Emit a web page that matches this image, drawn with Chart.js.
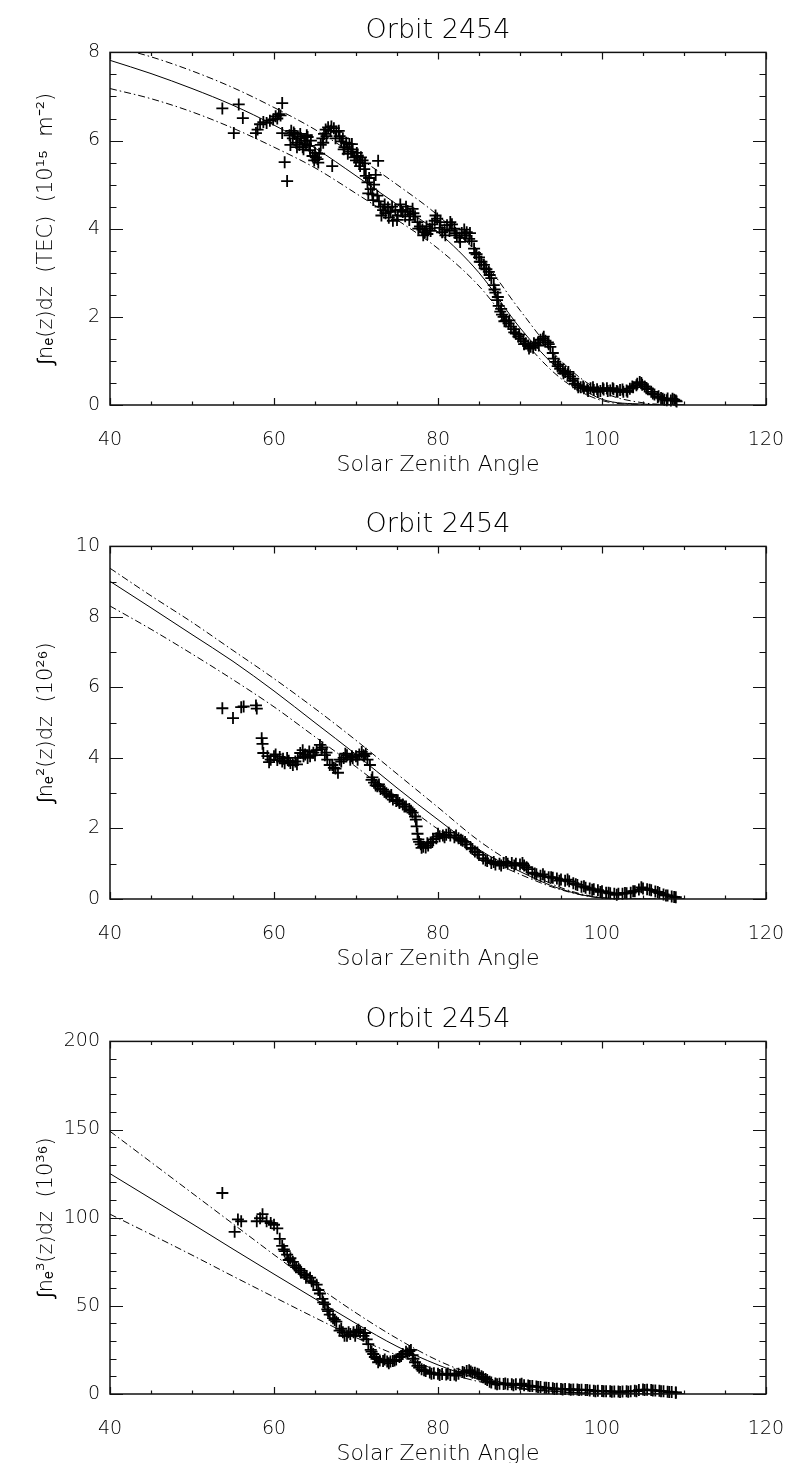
<!DOCTYPE html>
<html>
<head>
<meta charset="utf-8">
<script src="https://cdn.jsdelivr.net/npm/chart.js@4"></script>
<style>
  body { margin: 0; background: #fff; overflow: hidden; width: 790px; height: 1463px; position: relative; }
  canvas { position: absolute; left: 0; }
</style>
</head>
<body>
<canvas id="c1" width="790" height="494" style="top:0px"></canvas>
<canvas id="c2" width="790" height="494" style="top:494px"></canvas>
<canvas id="c3" width="790" height="494" style="top:989px"></canvas>
<script>
// model curves, read at these solar zenith angles
const modelSza = [40, 45, 50, 55, 60, 65, 70, 75, 80, 85, 90, 95, 100, 105, 110];

const tecModel = [7.82, 7.52, 7.18, 6.8, 6.35, 5.83, 5.2, 4.55, 3.92, 3.0, 1.75, 0.76, 0.13, 0.02, 0];
const tecHigh  = [8.15, 7.9, 7.58, 7.2, 6.75, 6.25, 5.65, 5.0, 4.3, 3.4, 2.15, 1.0, 0.3, 0.05, 0];
const tecLow   = [7.18, 6.95, 6.65, 6.28, 5.85, 5.38, 4.8, 4.2, 3.55, 2.7, 1.55, 0.6, 0.1, 0.01, 0];

const n2Model = [9.01, 8.26, 7.5, 6.74, 5.9, 5.0, 4.1, 3.15, 2.25, 1.4, 0.78, 0.28, 0.03, 0, 0];
const n2High  = [9.38, 8.6, 7.85, 7.05, 6.25, 5.4, 4.5, 3.55, 2.6, 1.65, 0.9, 0.32, 0.04, 0, 0];
const n2Low   = [8.31, 7.65, 6.95, 6.22, 5.45, 4.6, 3.75, 2.85, 1.98, 1.25, 0.7, 0.26, 0.03, 0, 0];

const n3Model = [125, 110.8, 96.6, 82.2, 68, 54, 40, 27, 16.5, 8.5, 3.5, 1.2, 0.3, 0.05, 0];
const n3High  = [149, 131.5, 114, 96.5, 79, 62, 46, 31.5, 19, 10, 4.5, 1.5, 0.3, 0.05, 0];
const n3Low   = [102, 90.5, 78.8, 66.8, 55, 43.3, 32, 22, 13.5, 7, 3, 1, 0.2, 0.02, 0];

// measurements, panel 1: TEC
const tecSza = [53.7, 55.1, 55.7, 56.2, 57.8, 58.0, 58.3, 58.7, 59.1, 59.5, 59.9, 60.2, 60.4, 60.6, 60.8, 61.0, 61.0, 61.3, 61.6,
  61.9, 62.1, 62.3, 62.5, 62.7, 62.9, 63.1, 63.3, 63.5, 63.7, 63.9, 64.1, 64.3, 64.5, 64.7, 64.9, 65.1, 65.3, 65.5, 65.7, 65.9,
  66.1, 66.3, 66.6, 66.9, 67.1, 67.3, 67.6, 67.9, 68.2, 68.4, 68.6, 68.8, 69.0, 69.2, 69.4, 69.6, 69.8, 70.0, 70.2, 70.4, 70.6,
  70.8, 71.0, 71.2, 71.4, 71.6, 71.8, 72.0, 72.2, 72.4, 72.7, 72.8, 73.0, 73.3, 73.6, 73.9, 74.2, 74.5, 74.8, 75.1, 75.4, 75.7,
  76.0, 76.3, 76.6, 76.9, 77.2, 77.5, 77.8, 78.1, 78.4, 78.7, 79.0, 79.3, 79.6, 79.9, 80.2, 80.5, 80.8, 81.1, 81.4, 81.7, 82.0,
  82.3, 82.6, 82.9, 83.2, 83.5, 83.8, 84.1, 84.4, 84.7, 85.0, 85.3, 85.6, 85.9, 86.2, 86.5, 86.8, 87.0, 87.2, 87.4, 87.6, 87.8,
  88.0, 88.3, 88.6, 88.9, 89.2, 89.5, 89.8, 90.1, 90.4, 90.7, 91.0, 91.3, 91.6, 91.9, 92.2, 92.5, 92.8, 93.1, 93.4, 93.7, 94.0,
  94.3, 94.6, 94.9, 95.2, 95.5, 95.8, 96.1, 96.4, 96.7, 97.0, 97.4, 97.8, 98.2, 98.6, 99.0, 99.4, 99.8, 100.2, 100.6, 101.0,
  101.4, 101.8, 102.2, 102.6, 103.0, 103.4, 103.8, 104.2, 104.6, 104.9, 105.2, 105.6, 106.0, 106.4, 106.8, 107.2, 107.6, 108.0,
  108.4, 108.8, 109.1];
const tecVal = [6.73, 6.17, 6.82, 6.51, 6.17, 6.25, 6.37, 6.42, 6.40, 6.45, 6.48, 6.55, 6.50, 6.60, 6.57, 6.85, 6.17, 5.51, 5.08,
  6.12, 6.22, 6.05, 6.15, 5.95, 6.10, 5.90, 6.05, 5.85, 6.00, 5.92, 6.08, 5.88, 6.00, 5.65, 5.55, 5.62, 5.58, 5.70, 5.90, 6.05,
  6.15, 6.25, 6.30, 6.22, 5.42, 6.28, 6.20, 6.22, 5.98, 6.05, 5.85, 5.95, 5.80, 5.92, 5.75, 5.80, 5.62, 5.55, 5.65, 5.50, 5.62,
  5.55, 5.35, 5.20, 5.05, 5.15, 4.90, 4.78, 5.00, 5.22, 5.54, 4.62, 4.50, 4.42, 4.35, 4.48, 4.38, 4.18, 4.42, 4.30, 4.55, 4.38,
  4.28, 4.40, 4.32, 4.45, 4.28, 4.15, 4.05, 3.98, 3.92, 3.88, 4.00, 4.10, 4.18, 4.23, 4.02, 3.92, 3.98, 4.08, 3.95, 4.10, 4.00,
  3.85, 3.80, 3.90, 3.98, 3.92, 3.77, 3.72, 3.55, 3.42, 3.35, 3.25, 3.18, 3.08, 3.02, 2.88, 2.72, 2.55, 2.38, 2.25, 2.12, 2.05,
  2.00, 1.92, 1.85, 1.78, 1.72, 1.62, 1.55, 1.50, 1.45, 1.40, 1.35, 1.32, 1.30, 1.36, 1.42, 1.48, 1.51, 1.46, 1.42, 1.32, 1.18,
  0.98, 0.88, 0.82, 0.78, 0.75, 0.70, 0.65, 0.55, 0.48, 0.45, 0.40, 0.38, 0.35, 0.38, 0.34, 0.36, 0.32, 0.35, 0.38, 0.33,
  0.36, 0.32, 0.34, 0.30, 0.33, 0.37, 0.40, 0.45, 0.52, 0.46, 0.42, 0.36, 0.30, 0.24, 0.18, 0.16, 0.12, 0.15,
  0.10, 0.12, 0.08];
// second pass of readings over the dense part of panel 1
const tecSza2 = [62.0, 62.4, 62.8, 63.2, 63.6, 64.0, 64.4, 65.0, 65.4, 66.0, 66.4, 67.0, 67.5, 68.0, 68.5, 69.0, 69.5, 70.1,
  70.5, 71.1, 71.5, 72.1, 72.6, 73.1, 73.5, 74.0, 74.4, 75.0, 75.5, 76.1, 76.5, 77.0, 77.6, 78.2, 78.6, 79.1, 79.7, 80.3, 80.9,
  81.5, 82.1, 82.7, 83.3, 83.9, 84.5, 85.1, 85.7, 86.3, 86.9, 87.3, 87.7, 88.1, 88.7, 89.3, 89.9, 90.5, 91.1, 91.7, 92.3, 92.9,
  93.5, 94.1, 94.7, 95.3, 95.9, 96.5, 97.1, 97.7, 98.3, 98.9, 99.5, 100.1, 100.7, 101.3, 101.9, 102.5, 103.1, 103.7, 104.3,
  104.8, 105.4, 106.2, 106.9, 107.4, 107.9, 108.6, 109.0];
const tecVal2 = [5.90, 6.18, 5.85, 6.15, 5.80, 6.12, 5.78, 5.72, 5.50, 5.95, 6.10, 6.32, 6.05, 6.10, 5.80, 5.70, 5.92, 5.72,
  5.42, 5.48, 4.80, 4.65, 4.75, 4.30, 4.55, 4.25, 4.50, 4.20, 4.42, 4.50, 4.20, 4.35, 4.00, 3.85, 4.05, 3.95, 4.30, 4.15, 3.85,
  4.15, 3.90, 3.70, 3.85, 3.90, 3.45, 3.25, 3.10, 2.95, 2.62, 2.45, 2.18, 1.90, 1.92, 1.65, 1.60, 1.38, 1.28, 1.40, 1.35, 1.55,
  1.38, 1.05, 0.92, 0.72, 0.75, 0.60, 0.40, 0.42, 0.32, 0.40, 0.30, 0.38, 0.32, 0.38, 0.30, 0.35, 0.30, 0.42, 0.48,
  0.50, 0.38, 0.26, 0.20, 0.14, 0.11, 0.14, 0.10];

// panel 2: integral of ne^2
const n2Sza = [53.7, 55.0, 56.0, 56.3, 57.8, 57.9, 58.5, 58.6, 58.7, 59.2, 59.6, 60.0, 60.4, 60.7, 61.0, 61.3, 61.6, 62.0, 62.3,
  62.6, 62.9, 63.2, 63.5, 63.8, 64.1, 64.4, 64.8, 65.2, 65.6, 65.9, 66.2, 66.5, 66.8, 67.1, 67.5, 67.8, 68.2, 68.5, 68.9, 69.3,
  69.6, 70.0, 70.4, 70.7, 71.0, 71.4, 71.7, 71.9, 72.2, 72.6, 73.0, 73.3, 73.7, 74.1, 74.5, 74.9, 75.3, 75.7, 76.1, 76.5, 76.9,
  77.2, 77.4, 77.5, 77.6, 77.9, 78.2, 78.5, 78.8, 79.1, 79.4, 79.8, 80.2, 80.6, 81.0, 81.5, 82.0, 82.5, 83.0, 83.5, 84.0, 84.5,
  85.0, 85.5, 86.0, 86.5, 87.0, 87.5, 88.0, 88.5, 89.0, 89.5, 90.0, 90.5, 91.0, 91.5, 92.0, 92.5, 93.0, 93.5, 94.0, 94.5, 95.0,
  95.5, 96.0, 96.5, 97.0, 97.5, 98.0, 98.5, 99.0, 99.5, 100.0, 100.5, 101.0, 101.5, 102.0, 102.5, 103.0, 103.5, 104.0, 104.5,
  105.0, 105.5, 106.0, 106.5, 107.0, 107.5, 108.0, 108.5, 109.0];
const n2Val = [5.41, 5.13, 5.44, 5.46, 5.49, 5.40, 4.56, 4.40, 4.14, 4.05, 3.95, 4.05, 3.94, 4.03, 3.90, 3.85, 4.00, 3.86, 3.80,
  3.90, 4.00, 4.14, 4.22, 4.10, 4.00, 4.05, 4.15, 4.22, 4.37, 4.30, 4.08, 3.95, 3.80, 3.80, 3.70, 3.58, 3.90, 4.00, 4.08, 3.95,
  4.00, 4.05, 4.10, 4.17, 4.05, 3.95, 3.80, 3.38, 3.30, 3.20, 3.12, 3.10, 3.00, 2.90, 2.82, 2.78, 2.72, 2.68, 2.62, 2.55, 2.45,
  2.34, 2.06, 1.85, 1.69, 1.55, 1.48, 1.46, 1.52, 1.60, 1.69, 1.72, 1.78, 1.80, 1.82, 1.80, 1.75, 1.72, 1.65, 1.55, 1.45, 1.35,
  1.25, 1.15, 1.08, 1.02, 0.98, 1.00, 1.02, 1.00, 1.02, 1.00, 0.98, 0.95, 0.85, 0.75, 0.70, 0.66, 0.64, 0.62, 0.60, 0.58, 0.55,
  0.52, 0.50, 0.45, 0.40, 0.35, 0.32, 0.30, 0.28, 0.25, 0.22, 0.18, 0.16, 0.15, 0.15, 0.15, 0.16, 0.18, 0.22, 0.27,
  0.30, 0.28, 0.25, 0.21, 0.17, 0.13, 0.10, 0.07, 0.05];
const n2Sza2 = [59.4, 60.2, 61.1, 61.8, 62.8, 63.6, 64.3, 65.0, 65.8, 66.4, 67.3, 68.0, 68.7, 69.5, 70.2, 70.9, 71.2, 72.0,
  72.4, 72.8, 73.5, 74.3, 75.1, 75.9, 76.7, 77.3, 77.7, 78.0, 78.7, 79.3, 80.0, 80.8, 81.3, 82.2, 82.8, 83.3, 84.2, 84.8, 85.8,
  86.8, 87.7, 88.3, 89.3, 90.3, 90.8, 91.8, 92.8, 93.8, 94.8, 95.8, 96.8, 97.8, 98.8, 99.8, 100.8, 101.8, 102.8, 103.8, 104.8,
  105.8, 106.8, 107.8, 108.8];
const n2Val2 = [3.88, 4.10, 3.98, 3.92, 3.82, 4.05, 4.18, 4.08, 4.25, 4.15, 3.72, 3.95, 4.12, 4.05, 3.95, 4.08, 4.12, 3.45,
  3.22, 3.25, 3.05, 2.95, 2.80, 2.62, 2.50, 2.25, 1.62, 1.45, 1.58, 1.62, 1.85, 1.75, 1.88, 1.80, 1.68, 1.62, 1.42, 1.32, 1.10,
  1.05, 0.95, 1.05, 0.95, 1.02, 0.90, 0.72, 0.70, 0.62, 0.52, 0.55, 0.42, 0.36, 0.26, 0.20, 0.18, 0.12, 0.17, 0.22, 0.33,
  0.26, 0.20, 0.10, 0.06];

// panel 3: integral of ne^3
const n3Sza = [53.7, 55.2, 55.6, 56.0, 57.9, 58.3, 58.6, 59.1, 59.6, 60.0, 60.4, 60.7, 61.0, 61.3, 61.6, 62.0, 62.3, 62.7, 63.0,
  63.3, 63.7, 64.0, 64.4, 64.8, 65.2, 65.6, 65.9, 66.2, 66.5, 66.8, 67.2, 67.6, 68.0, 68.4, 68.9, 69.3, 69.7, 70.1, 70.5, 71.1,
  71.5, 71.8, 72.1, 72.5, 72.9, 73.3, 73.8, 74.2, 74.5, 74.9, 75.3, 75.7, 76.1, 76.5, 76.9, 77.2, 77.5, 78.0, 78.5, 79.0, 79.5,
  80.0, 80.5, 81.0, 81.5, 82.0, 82.5, 83.0, 83.5, 84.0, 84.5, 85.0, 85.5, 86.0, 86.5, 87.0, 87.5, 88.0, 88.5, 89.0, 89.5, 90.0,
  90.5, 91.0, 91.5, 92.0, 92.5, 93.0, 93.5, 94.0, 94.5, 95.0, 95.5, 96.0, 96.5, 97.0, 97.5, 98.0, 98.5, 99.0, 99.5, 100.0,
  100.5, 101.0, 101.5, 102.0, 102.5, 103.0, 103.5, 104.0, 104.5, 105.0, 105.5, 106.0, 106.5, 107.0, 107.5, 108.0, 108.5, 109.0];
const n3Val = [114, 92, 99, 98, 98, 99.7, 102, 98, 97, 96, 94, 88, 84, 81, 79, 77, 75, 72, 71,
  69, 68, 67, 66, 63, 62, 57, 54, 51, 48, 45, 43, 41, 36, 35, 33, 34, 35, 35.7, 35, 34.6,
  28.3, 25, 22.7, 20, 19, 18.7, 18.5, 18.5, 18.7, 19.5, 21, 22.7, 24, 24.4, 22, 18, 16, 14, 13, 12.2, 11.8,
  11.5, 11.3, 11, 10.8, 11, 11.5, 12.5, 13, 12.8, 12, 11, 9.5, 8, 6.5, 6, 5.8, 5.7, 5.6, 5.5, 5.6, 5.4,
  5, 4.8, 4.5, 4.2, 3.9, 3.6, 3.4, 3.2, 3.0, 2.9, 2.8, 2.7, 2.6, 2.5, 2.4, 2.2, 2.0, 1.9, 1.8, 1.7,
  1.6, 1.5, 1.4, 1.4, 1.4, 1.5, 1.6, 1.8, 2.2, 2.5, 2.4, 2.2, 2.0, 1.8, 1.5, 1.3, 1.1, 0.9];
const n3Sza2 = [61.2, 61.8, 62.5, 63.2, 63.9, 64.6, 65.4, 66.0, 66.6, 67.4, 68.2, 68.6, 69.1, 69.9, 70.3, 70.9, 71.3, 71.9,
  72.3, 72.7, 73.5, 74.0, 74.7, 75.5, 76.3, 76.7, 77.0, 77.7, 78.3, 79.2, 80.2, 81.2, 82.2, 83.2, 83.8, 84.2, 84.8, 85.3, 85.8,
  86.3, 87.2, 88.2, 89.2, 90.2, 91.2, 92.2, 93.2, 94.2, 95.2, 96.2, 97.2, 98.2, 99.2, 100.2, 101.2, 102.2, 103.2, 104.2,
  105.2, 106.2, 107.2, 108.2, 109.0];
const n3Val2 = [82, 76, 73, 70, 66, 64, 59, 52, 47, 42, 37, 33, 35, 33, 36.5, 33, 31, 24,
  21, 18, 19.5, 17.5, 19, 21.5, 23, 25, 20, 15, 13.5, 11.5, 10.8, 11.6, 10.5, 12, 13.5, 12, 11.5, 10, 8.5,
  7, 5.5, 6, 5, 5.8, 4.5, 4.0, 3.5, 2.8, 2.6, 2.4, 2.2, 2.3, 1.6, 1.5, 1.3, 1.2, 1.3, 1.6,
  2.2, 2.0, 1.6, 1.1, 0.7];

const FONT = "'DejaVu Sans', 'Liberation Sans', sans-serif";

// IDL style frame: box with inward ticks on all four sides
const idlFrame = {
  id: 'idlFrame',
  afterDraw(chart, args, opts) {
    const { ctx, chartArea: a } = chart;
    const x = chart.scales.x, y = chart.scales.y;
    ctx.save();
    ctx.strokeStyle = '#111';
    ctx.lineWidth = 1.5;
    ctx.strokeRect(a.left, a.top, a.right - a.left, a.bottom - a.top);
    ctx.lineWidth = 1.2;
    ctx.beginPath();
    for (let v = 40; v <= 120; v += 5) {
      const px = Math.round(x.getPixelForValue(v)) + 0.5;
      const len = v % 20 === 0 ? 7 : 3.5;
      ctx.moveTo(px, a.bottom); ctx.lineTo(px, a.bottom - len);
      ctx.moveTo(px, a.top); ctx.lineTo(px, a.top + len);
    }
    const n = Math.round(opts.max / opts.minor);
    for (let i = 0; i <= n; i++) {
      const v = i * opts.minor;
      const py = Math.round(y.getPixelForValue(v)) + 0.5;
      const r = v / opts.major;
      const len = Math.abs(r - Math.round(r)) < 1e-6 ? 13 : 6.5;
      ctx.moveTo(a.left, py); ctx.lineTo(a.left + len, py);
      ctx.moveTo(a.right, py); ctx.lineTo(a.right - len, py);
    }
    ctx.stroke();
    ctx.restore();
  }
};

function pts(xs, ys) {
  return xs.map((v, i) => ({ x: v, y: ys[i] }));
}

function curve(vals, dash) {
  return {
    data: pts(modelSza, vals),
    showLine: true,
    borderColor: '#000',
    borderWidth: 1,
    borderDash: dash,
    pointRadius: 0,
    cubicInterpolationMode: 'monotone'
  };
}

function makeChart(id, xs, ys, model, hi, lo, yMax, yMajor, yMinor, yTitle) {
  new Chart(document.getElementById(id), {
    type: 'scatter',
    data: {
      datasets: [
        {
          data: pts(xs, ys),
          pointStyle: 'cross',
          pointRadius: 6,
          borderColor: '#000',
          borderWidth: 1.8,
          clip: false
        },
        curve(model, []),
        curve(hi, [7, 3, 1.5, 3]),
        curve(lo, [7, 3, 1.5, 3])
      ]
    },
    options: {
      responsive: false,
      animation: false,
      devicePixelRatio: 1,
      layout: { padding: { left: 0, right: 24, top: 0, bottom: 0 } },
      plugins: {
        legend: { display: false },
        tooltip: { enabled: false },
        title: {
          display: true,
          text: 'Orbit 2454',
          fullSize: false,
          color: '#000',
          font: { family: FONT, size: 27, weight: 200 },
          padding: { top: 15, bottom: 5 }
        },
        idlFrame: { max: yMax, major: yMajor, minor: yMinor }
      },
      scales: {
        x: {
          type: 'linear',
          min: 40, max: 120,
          grid: { display: false, drawTicks: false },
          border: { display: false },
          afterFit: s => { s.height = 89; s.paddingLeft = 0; s.paddingRight = 0; },
          ticks: {
            stepSize: 20,
            color: '#000',
            padding: 24,
            maxRotation: 0,
            font: { family: FONT, size: 19, weight: 200 }
          },
          title: {
            display: true,
            text: 'Solar Zenith Angle',
            color: '#000',
            font: { family: FONT, size: 22, weight: 200 },
            padding: { top: 0, bottom: 16 }
          }
        },
        y: {
          min: 0, max: yMax,
          grid: { display: false, drawTicks: false },
          border: { display: false },
          afterFit: s => { s.width = 110; s.paddingTop = 0; s.paddingBottom = 0; },
          ticks: {
            stepSize: yMajor,
            color: '#000',
            padding: 10,
            font: { family: FONT, size: 19, weight: 200 }
          },
          title: {
            display: true,
            text: yTitle,
            color: '#000',
            font: { family: FONT, size: 21, weight: 200 },
            padding: { top: 34, bottom: 0 }
          }
        }
      }
    },
    plugins: [idlFrame]
  });
}

makeChart('c1', tecSza.concat(tecSza2), tecVal.concat(tecVal2), tecModel, tecHigh, tecLow, 8, 2, 0.5,
  '∫nₑ(z)dz  (TEC)  (10¹⁵  m⁻²)');
makeChart('c2', n2Sza.concat(n2Sza2), n2Val.concat(n2Val2), n2Model, n2High, n2Low, 10, 2, 1, '∫nₑ²(z)dz  (10²⁶)');
makeChart('c3', n3Sza.concat(n3Sza2), n3Val.concat(n3Val2), n3Model, n3High, n3Low, 200, 50, 10, '∫nₑ³(z)dz  (10³⁶)');
</script>
</body>
</html>
